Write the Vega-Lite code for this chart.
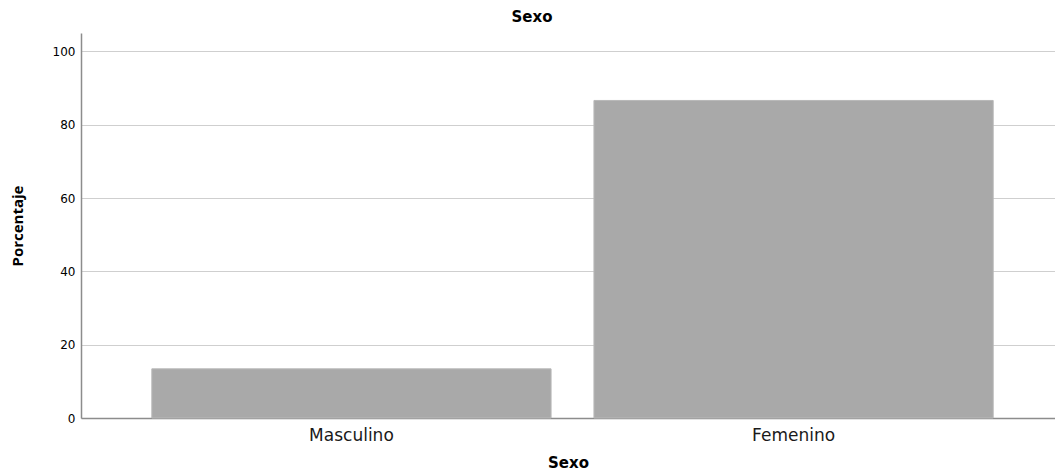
{
  "$schema": "https://vega.github.io/schema/vega-lite/v6.json",
  "width": 974,
  "height": 385,
  "autosize": {"type": "none"},
  "padding": {"left": 81, "top": 33, "right": 0, "bottom": 55},
  "background": "white",
  "title": {"text": "Sexo", "font": "DejaVu Sans", "fontSize": 15, "fontWeight": "bold", "color": "#000000", "anchor": "middle", "dx": -36, "offset": 8},
  "data": {"values": [
    {"Sexo": "Masculino", "Porcentaje": 13.4},
    {"Sexo": "Femenino", "Porcentaje": 86.6}
  ]},
  "mark": {"type": "bar", "color": "#a9a9a9", "stroke": "#b8b8b8", "strokeWidth": 1},
  "encoding": {
    "x": {
      "field": "Sexo", "type": "nominal", "sort": ["Masculino", "Femenino"],
      "scale": {"paddingInner": 0.097, "paddingOuter": 0.15, "align": 0.534},
      "axis": {
        "title": "Sexo", "titleFont": "DejaVu Sans", "titleFontSize": 15, "titleFontWeight": "bold", "titleColor": "#000000", "titlePadding": 12,
        "labelFont": "DejaVu Sans", "labelFontSize": 17, "labelFontWeight": 500, "labelColor": "#1a1a1a", "labelAngle": 0, "labelPadding": 9,
        "ticks": false, "domainColor": "#8c8c8c", "domainWidth": 1.5
      }
    },
    "y": {
      "field": "Porcentaje", "type": "quantitative",
      "scale": {"domain": [0, 105], "nice": false},
      "axis": {
        "title": "Porcentaje", "titleFont": "Open Sans", "titleFontSize": 15, "titleFontWeight": "bold", "titleColor": "#000000", "titlePadding": 27,
        "values": [0, 20, 40, 60, 80, 100],
        "labelFont": "DejaVu Sans", "labelFontSize": 12, "labelColor": "#000000", "labelPadding": 6,
        "ticks": false, "domainColor": "#8c8c8c", "domainWidth": 1.5,
        "grid": true, "gridColor": "#cfcfcf", "gridWidth": 1
      }
    }
  },
  "config": {"view": {"stroke": null}}
}
